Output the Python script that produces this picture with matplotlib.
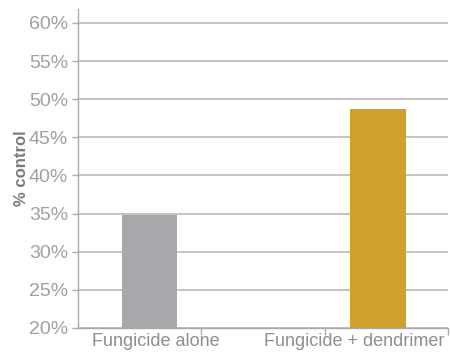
import matplotlib.pyplot as plt
from matplotlib.ticker import FixedLocator

categories = ['Fungicide alone', 'Fungicide + dendrimer']
values = [34.8, 48.7]
colors = ['#a7a8ab', '#d1a02a']
yticks = [20, 25, 30, 35, 40, 45, 50, 55, 60]

plt.rcParams['font.family'] = ['Liberation Sans', 'DejaVu Sans']

fig = plt.figure(figsize=(4.5, 3.58), dpi=100)
ax = fig.add_axes([0.173, 0.084, 0.823, 0.891])

xpos = [0.58, 2.43]
ax.bar(xpos, values, width=0.45, color=colors, zorder=3)

ax.set_xlim(0, 3)
ax.set_ylim(20, 61.84)
ax.set_yticks(yticks)
ax.set_yticklabels([f'{t}%' for t in yticks], color='#a0a0a0', fontsize=14)
ax.yaxis.grid(True, color='#b4b4b4', linewidth=1.1, zorder=0)

ax.set_xticks([0.63, 2.24])
ax.set_xticklabels(categories, color='#8e8e8e', fontsize=13)
ax.tick_params(axis='x', which='major', length=0, pad=4)
ax.xaxis.set_minor_locator(FixedLocator([1, 2, 3]))
ax.tick_params(axis='x', which='minor', length=5, color='#aaaaaa', width=1)
ax.tick_params(axis='y', length=4, color='#aaaaaa', width=1, pad=3)

for s in ['top', 'right']:
    ax.spines[s].set_visible(False)
for s in ['left', 'bottom']:
    ax.spines[s].set_color('#aaaaaa')
    ax.spines[s].set_linewidth(1)

ax.set_ylabel('% control', color='#7a7a7a', fontsize=12, fontweight='bold', labelpad=0)

fig.savefig('out.png', dpi=100)
